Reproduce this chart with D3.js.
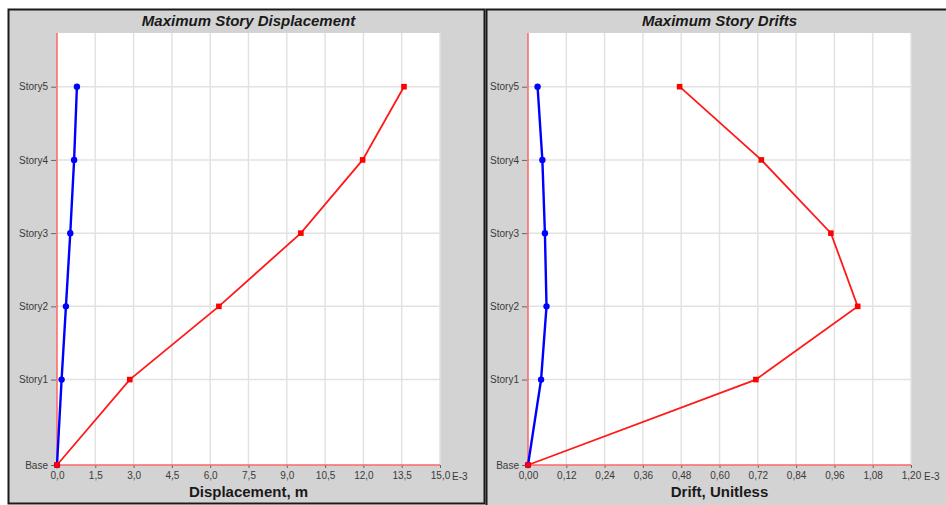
<!DOCTYPE html>
<html>
<head>
<meta charset="utf-8">
<script src="https://cdn.jsdelivr.net/npm/d3@7"></script>
<style>
  body { margin: 0; background: #fff; }
  svg { display: block; font-family: "Liberation Sans", Arial, sans-serif; }
</style>
</head>
<body>
<div id="chart"></div>
<script>
// story levels
var stories = ["Base", "Story1", "Story2", "Story3", "Story4", "Story5"];
var elevations = [0, 3.5, 6.5, 9.5, 12.5, 15.5];

// displacement (E-3 m)
var dispX = [0, 2.85, 6.34, 9.55, 11.97, 13.59];
var dispY = [0, 0.18, 0.35, 0.52, 0.67, 0.78];
var dispTicks = [0, 1.5, 3.0, 4.5, 6.0, 7.5, 9.0, 10.5, 12.0, 13.5, 15.0];

// drifts (E-3)
var driftX = [0, 0.714, 1.033, 0.949, 0.731, 0.475];
var driftY = [0, 0.041, 0.058, 0.053, 0.045, 0.030];
var driftTicks = [0, 0.12, 0.24, 0.36, 0.48, 0.60, 0.72, 0.84, 0.96, 1.08, 1.20];

var svg = d3.select("#chart").append("svg")
    .attr("width", 946)
    .attr("height", 505);

//panel frames
svg.append("rect")
    .attr("x", 8.5).attr("y", 9.5)
    .attr("width", 476).attr("height", 494)
    .style("fill", "#d3d3d3")
    .style("stroke", "#1a1a1a")
    .style("stroke-width", 2);
svg.append("rect")
    .attr("x", 486.5).attr("y", 9.5)
    .attr("width", 470).attr("height", 500)
    .style("fill", "#d3d3d3")
    .style("stroke", "#1a1a1a")
    .style("stroke-width", 2);

function drawPanel(opt) {
    var g = svg.append("g");
    var x = d3.scaleLinear().domain([0, opt.ticks[opt.ticks.length - 1]]).range([opt.left, opt.right]);
    var y = d3.scaleLinear().domain([0, 17.7]).range([465, 33]);
    var fmt = d3.format(opt.fmt);

    // plot area
    g.append("rect")
        .attr("x", opt.left).attr("y", 33)
        .attr("width", opt.right - opt.left).attr("height", 465 - 33)
        .style("fill", "#fff");

    // grid
    g.selectAll(".vgrid").data(opt.ticks.slice(1)).enter()
        .append("line")
        .attr("class", "vgrid")
        .attr("x1", function(d) { return x(d); })
        .attr("x2", function(d) { return x(d); })
        .attr("y1", 33).attr("y2", 465)
        .style("stroke", "#e2e2e2")
        .style("stroke-width", 1.5);
    g.selectAll(".hgrid").data(elevations.slice(1)).enter()
        .append("line")
        .attr("class", "hgrid")
        .attr("x1", opt.left).attr("x2", opt.right)
        .attr("y1", function(d) { return y(d); })
        .attr("y2", function(d) { return y(d); })
        .style("stroke", "#e2e2e2")
        .style("stroke-width", 1.5);

    //Axis
    var xAxis = d3.axisBottom(x)
        .tickValues(opt.ticks)
        .tickSize(3)
        .tickPadding(4)
        .tickFormat(function(d) { return fmt(d).replace(".", ","); });
    var xg = g.append("g")
        .attr("transform", "translate(0,465)")
        .call(xAxis);
    xg.select(".domain").remove();
    xg.selectAll("line").style("stroke", "#666");
    xg.selectAll("text")
        .style("font-size", "10px")
        .style("fill", "#3a3a3a")
        .style("font-family", "Liberation Sans, Arial, sans-serif");

    var yAxis = d3.axisLeft(y)
        .tickValues(elevations)
        .tickSize(5)
        .tickPadding(3)
        .tickFormat(function(d, i) { return stories[i]; });
    var yg = g.append("g")
        .attr("transform", "translate(" + (opt.left - 1) + ",0)")
        .call(yAxis);
    yg.select(".domain").remove();
    yg.selectAll("line").style("stroke", "#666");
    yg.selectAll("text")
        .style("font-size", "10px")
        .style("fill", "#3a3a3a")
        .style("font-family", "Liberation Sans, Arial, sans-serif");

    // red axis lines
    g.append("line")
        .attr("x1", opt.left).attr("x2", opt.left)
        .attr("y1", 33).attr("y2", 465)
        .style("stroke", "#ff6666").style("stroke-width", 1.5);
    g.append("line")
        .attr("x1", opt.left).attr("x2", opt.right)
        .attr("y1", 465).attr("y2", 465)
        .style("stroke", "#ff6666").style("stroke-width", 1.5);

    // exponent note
    g.append("text")
        .attr("x", opt.right + opt.expOffset).attr("y", 479.5)
        .style("font-size", "10px")
        .style("fill", "#3a3a3a")
        .text("E-3");

    // title and axis label
    g.append("text")
        .attr("x", (opt.left + opt.right) / 2).attr("y", 25.5)
        .attr("text-anchor", "middle")
        .style("font-size", "15px")
        .style("font-weight", "bold")
        .style("font-style", "italic")
        .style("fill", "#1a1a1a")
        .text(opt.title);
    g.append("text")
        .attr("x", (opt.left + opt.right) / 2).attr("y", 497)
        .attr("text-anchor", "middle")
        .style("font-size", "15px")
        .style("font-weight", "bold")
        .style("fill", "#1a1a1a")
        .text(opt.xLabel);

    var line = d3.line()
        .x(function(d) { return x(d.v); })
        .y(function(d) { return y(d.e); });

    var blue = opt.blue.map(function(v, i) { return {v: v, e: elevations[i]}; });
    var red = opt.red.map(function(v, i) { return {v: v, e: elevations[i]}; });

    g.append("path").datum(blue)
        .attr("d", line)
        .style("fill", "none")
        .style("stroke", "#0000ff")
        .style("stroke-width", 2.4);
    g.selectAll(".bdot").data(blue).enter()
        .append("circle")
        .attr("class", "bdot")
        .attr("cx", function(d) { return x(d.v); })
        .attr("cy", function(d) { return y(d.e); })
        .attr("r", 3.2)
        .style("fill", "#0000ff");

    g.append("path").datum(red)
        .attr("d", line)
        .style("fill", "none")
        .style("stroke", "#ff1a1a")
        .style("stroke-width", 1.8);
    g.selectAll(".rdot").data(red).enter()
        .append("rect")
        .attr("class", "rdot")
        .attr("x", function(d) { return x(d.v) - 2.8; })
        .attr("y", function(d) { return y(d.e) - 2.8; })
        .attr("width", 5.6).attr("height", 5.6)
        .style("fill", "#ff0000");
}

drawPanel({
    left: 57, right: 440,
    ticks: dispTicks, fmt: ".1f", expOffset: 12,
    title: "Maximum Story Displacement",
    xLabel: "Displacement, m",
    red: dispX, blue: dispY
});

drawPanel({
    left: 528, right: 911,
    ticks: driftTicks, fmt: ".2f", expOffset: 13,
    title: "Maximum Story Drifts",
    xLabel: "Drift, Unitless",
    red: driftX, blue: driftY
});
</script>
</body>
</html>
